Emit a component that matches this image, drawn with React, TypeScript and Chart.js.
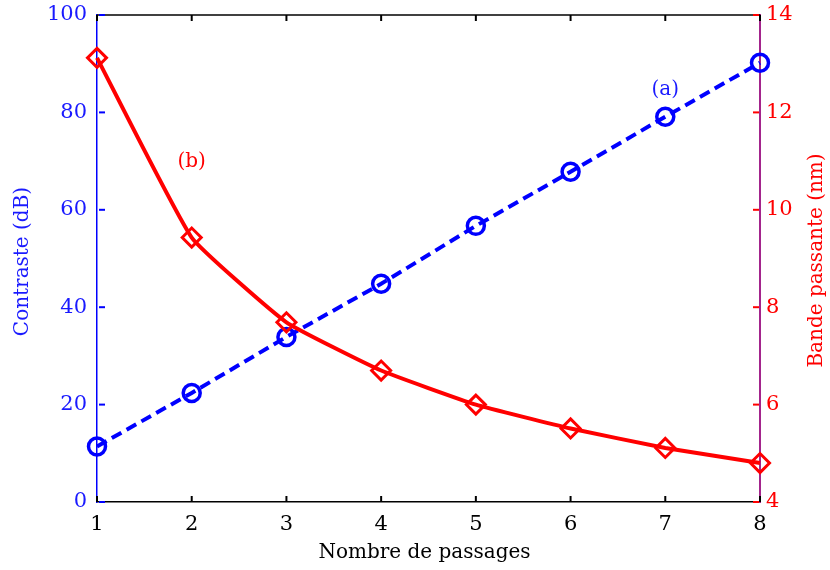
import React, { useEffect, useRef } from 'react';
import { Chart, registerables } from 'chart.js';

Chart.register(...registerables);

// ---- Data ----
const passages = [1, 2, 3, 4, 5, 6, 7, 8];
const contraste = [11.4, 22.4, 33.9, 44.8, 56.7, 67.8, 79.1, 90.2];
const bandePassante = [13.12, 9.43, 7.69, 6.7, 6.0, 5.51, 5.11, 4.8];

const xTicks = [1, 2, 3, 4, 5, 6, 7, 8];
const leftTicks = [0, 20, 40, 60, 80, 100];
const rightTicks = [4, 6, 8, 10, 12, 14];

const xTitle = 'Nombre de passages';
const leftTitle = 'Contraste (dB)';
const rightTitle = 'Bande passante (nm)';

const labelA = { text: '(a)', x: 7, y: 84.6 };
const labelB = { text: '(b)', x: 2, y: 69.8 };

const BLUE = '#0000ff';
const BLUE_TXT = '#1a1aff';
const RED = '#ff0000';
const PURPLE = '#a3248c';
const FONT = 'DejaVu Serif';

const decor = {
  id: 'decor',
  afterDraw(chart: any) {
    const { ctx, chartArea: a, scales } = chart;
    const sx = scales.x, sy = scales.y, sy1 = scales.y1;
    const line = (x1: number, y1: number, x2: number, y2: number) => {
      ctx.beginPath();
      ctx.moveTo(x1, y1);
      ctx.lineTo(x2, y2);
      ctx.stroke();
    };
    ctx.save();
    // top frame
    ctx.strokeStyle = '#000';
    ctx.lineWidth = 1.5;
    line(a.left, a.top, a.right, a.top);
    // x inward ticks
    ctx.lineWidth = 2;
    xTicks.forEach((v) => {
      const px = sx.getPixelForValue(v);
      line(px, a.bottom, px, a.bottom - 6);
      line(px, a.top, px, a.top + 6);
    });
    // left ticks
    ctx.strokeStyle = BLUE;
    leftTicks.forEach((v) => {
      const py = sy.getPixelForValue(v);
      line(a.left + 2, py, a.left + 8, py);
    });
    // right ticks
    ctx.strokeStyle = RED;
    rightTicks.forEach((v) => {
      const py = sy1.getPixelForValue(v);
      line(a.right - 7, py, a.right - 1, py);
    });
    // titles
    ctx.font = `20px "${FONT}"`;
    ctx.textAlign = 'center';
    ctx.textBaseline = 'middle';
    ctx.fillStyle = '#000';
    ctx.fillText(xTitle, (a.left + a.right) / 2 - 4, 553);
    const midY = (a.top + a.bottom) / 2;
    ctx.save();
    ctx.translate(23, midY + 3);
    ctx.rotate(-Math.PI / 2);
    ctx.fillStyle = BLUE_TXT;
    ctx.fillText(leftTitle, 0, 0);
    ctx.restore();
    ctx.save();
    ctx.translate(817, midY + 2);
    ctx.rotate(-Math.PI / 2);
    ctx.fillStyle = RED;
    ctx.fillText(rightTitle, 0, 0);
    ctx.restore();
    // annotations
    ctx.fillStyle = BLUE_TXT;
    ctx.fillText(labelA.text, sx.getPixelForValue(labelA.x), sy.getPixelForValue(labelA.y));
    ctx.fillStyle = RED;
    ctx.fillText(labelB.text, sx.getPixelForValue(labelB.x), sy.getPixelForValue(labelB.y));
    ctx.restore();
  },
};

export default function App() {
  const ref = useRef<HTMLCanvasElement>(null);
  useEffect(() => {
    if (!ref.current) return;
    Chart.defaults.font.family = FONT;
    const chart = new Chart(ref.current, {
      type: 'line',
      data: {
        datasets: [
          {
            label: 'Bande passante',
            data: passages.map((x, i) => ({ x, y: bandePassante[i] })),
            yAxisID: 'y1',
            borderColor: RED,
            borderWidth: 4,
            tension: 0.12,
            pointStyle: 'rectRot',
            pointRadius: 9.5,
            pointBorderWidth: 3,
            pointBorderColor: RED,
            pointBackgroundColor: 'rgba(0,0,0,0)',
            clip: false,
            order: 0,
          },
          {
            label: 'Contraste',
            data: passages.map((x, i) => ({ x, y: contraste[i] })),
            yAxisID: 'y',
            borderColor: BLUE,
            borderWidth: 4,
            borderDash: [11, 6],
            pointStyle: 'circle',
            pointRadius: 8.5,
            pointBorderWidth: 3.5,
            pointBorderColor: BLUE,
            pointBackgroundColor: 'rgba(0,0,0,0)',
            clip: false,
            order: 1,
          },
        ],
      },
      options: {
        animation: false,
        responsive: false,
        layout: { padding: { top: 15, left: 0, right: 0, bottom: 0 } },
        plugins: { legend: { display: false }, tooltip: { enabled: false } },
        events: [],
        scales: {
          x: {
            type: 'linear',
            position: 'bottom',
            min: 1,
            max: 8,
            grid: { display: false, drawTicks: false },
            border: { display: true, color: '#000', width: 1.5 },
            ticks: { color: '#000', padding: 10, font: { size: 21, family: FONT } },
            afterBuildTicks: (s: any) => {
              s.ticks = xTicks.map((v) => ({ value: v }));
            },
            afterFit: (s: any) => {
              s.height = 68;
              s.paddingLeft = 0;
              s.paddingRight = 0;
            },
          },
          y: {
            type: 'linear',
            position: 'left',
            min: 0,
            max: 100,
            grid: { display: false, drawTicks: false },
            border: { display: true, color: BLUE, width: 1.5 },
            ticks: { color: BLUE_TXT, padding: 10, font: { size: 21, family: FONT } },
            afterBuildTicks: (s: any) => {
              s.ticks = leftTicks.map((v) => ({ value: v }));
            },
            afterFit: (s: any) => {
              s.width = 97;
              s.paddingTop = 0;
              s.paddingBottom = 0;
            },
          },
          y1: {
            type: 'linear',
            position: 'right',
            min: 4,
            max: 14,
            grid: { display: false, drawTicks: false },
            border: { display: true, color: PURPLE, width: 2 },
            ticks: { color: RED, padding: 6, font: { size: 21, family: FONT } },
            afterBuildTicks: (s: any) => {
              s.ticks = rightTicks.map((v) => ({ value: v }));
            },
            afterFit: (s: any) => {
              s.width = 70;
              s.paddingTop = 0;
              s.paddingBottom = 0;
            },
          },
        },
      } as any,
      plugins: [decor],
    });
    return () => chart.destroy();
  }, []);
  return (
    <div style={{ position: 'fixed', left: 0, top: 0, width: 830, height: 570, background: '#fff' }}>
      <canvas ref={ref} width={830} height={570} />
    </div>
  );
}
